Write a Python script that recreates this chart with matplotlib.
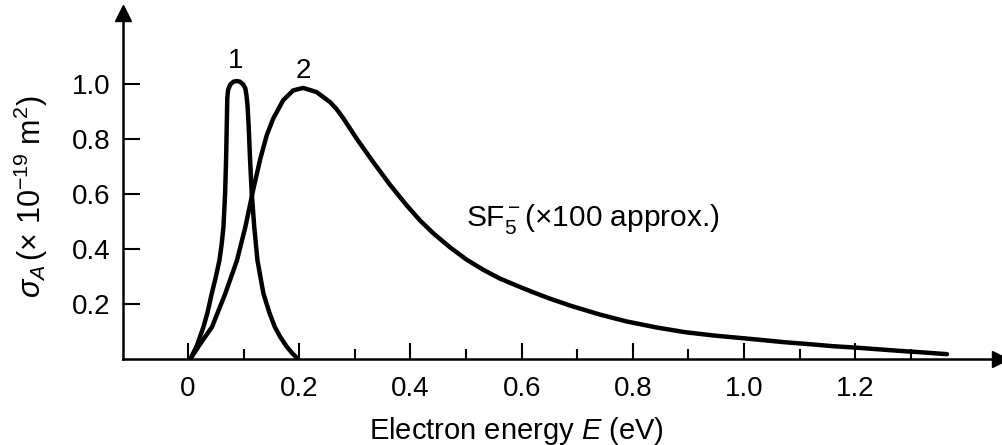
import numpy as np
import matplotlib
matplotlib.use("Agg")
from matplotlib import pyplot as plt

plt.rcParams['font.family'] = ['Liberation Sans', 'DejaVu Sans']
plt.rcParams['mathtext.fontset'] = 'custom'
plt.rcParams['mathtext.rm'] = 'Liberation Sans'
plt.rcParams['mathtext.it'] = 'Liberation Sans:italic'

# curve 1 (narrow peak)
E1 = [0.004, 0.016, 0.0276, 0.035, 0.0426, 0.05, 0.0564, 0.0605, 0.0636, 0.0666,
      0.0683, 0.0695, 0.0705, 0.072, 0.076, 0.082, 0.0875, 0.093, 0.099, 0.103,
      0.105, 0.107, 0.109, 0.1115, 0.1145, 0.119, 0.1247, 0.13, 0.1355, 0.146,
      0.156, 0.166, 0.1775, 0.188, 0.198]
S1 = [0.0, 0.05, 0.117, 0.17, 0.239, 0.3, 0.36, 0.42, 0.481, 0.603,
      0.724, 0.845, 0.95, 0.98, 1.0, 1.01, 1.012, 1.01, 1.0, 0.985,
      0.96, 0.92, 0.845, 0.724, 0.603, 0.481, 0.36, 0.3, 0.239, 0.17,
      0.117, 0.08, 0.045, 0.02, 0.0]

# curve 2 (SF5-, broad peak)
E2 = [0.004, 0.02, 0.043, 0.067, 0.088, 0.103, 0.1175, 0.13, 0.1415, 0.153,
      0.171, 0.189, 0.207, 0.231, 0.255, 0.267, 0.279, 0.303, 0.333, 0.363,
      0.393, 0.417, 0.441, 0.471, 0.501, 0.531, 0.561, 0.594, 0.621, 0.651,
      0.69, 0.741, 0.789, 0.843, 0.894, 0.945, 0.993, 1.03, 1.07, 1.12,
      1.16, 1.2, 1.24, 1.28, 1.325, 1.365]
S2 = [0.0, 0.05, 0.117, 0.239, 0.36, 0.481, 0.62, 0.73, 0.815, 0.875,
      0.942, 0.978, 0.987, 0.972, 0.936, 0.91, 0.877, 0.803, 0.717, 0.635,
      0.56, 0.505, 0.458, 0.407, 0.362, 0.325, 0.293, 0.265, 0.243, 0.22,
      0.193, 0.162, 0.137, 0.115, 0.098, 0.086, 0.077, 0.07, 0.062, 0.054,
      0.047, 0.042, 0.036, 0.03, 0.024, 0.018]

xticks = [0, 0.2, 0.4, 0.6, 0.8, 1.0, 1.2]
xlabels = ["0", "0.2", "0.4", "0.6", "0.8", "1.0", "1.2"]
xminor = [0.1, 0.3, 0.5, 0.7, 0.9, 1.1, 1.3]
yticks = [0.2, 0.4, 0.6, 0.8, 1.0]
ylabels = ["0.2", "0.4", "0.6", "0.8", "1.0"]

fig = plt.figure(figsize=(10.02, 4.45), dpi=100)
ax = fig.add_axes([0.1228, 0.193, 0.875, 0.778])

ax.plot(E1, S1, color="black", lw=3.2, solid_joinstyle="round", solid_capstyle="round")
ax.plot(E2, S2, color="black", lw=3.2, solid_joinstyle="round", solid_capstyle="round")

ax.set_xlim(-0.117, 1.46)
ax.set_ylim(0, 1.26)

for s in ["top", "right"]:
    ax.spines[s].set_visible(False)
for s in ["left", "bottom"]:
    ax.spines[s].set_linewidth(1.8)

# arrow heads
ax.plot(1, 0, ">", color="black", ms=11, transform=ax.transAxes, clip_on=False)
ax.plot(0, 1, "^", color="black", ms=11, transform=ax.transAxes, clip_on=False)

ax.set_xticks(xticks)
ax.set_xticklabels(xlabels)
ax.set_xticks(xminor, minor=True)
ax.set_yticks(yticks)
ax.set_yticklabels(ylabels)
ax.tick_params(axis="x", which="major", direction="in", length=11.5, width=1.5, labelsize=20, pad=12)
ax.tick_params(axis="x", which="minor", direction="in", length=7.5, width=1.5)
ax.tick_params(axis="y", which="major", direction="in", length=12, width=1.5, labelsize=20, pad=9)

ax.set_xlabel("Electron energy $E$ (eV)", fontsize=21, labelpad=9.5, x=0.449)
ax.set_ylabel(r"$\sigma_A\,$(× 10$^{-19}$ m$^2$)", fontsize=22, labelpad=16, y=0.468)

ax.text(0.086, 1.085, "1", fontsize=20, ha="center", va="center")
ax.text(0.207, 1.05, "2", fontsize=20, ha="center", va="center")
ax.text(0.5, 0.51, "SF$_5^-$(×100 approx.)", fontsize=21.5, ha="left", va="center")

plt.savefig("out.png", dpi=100)
